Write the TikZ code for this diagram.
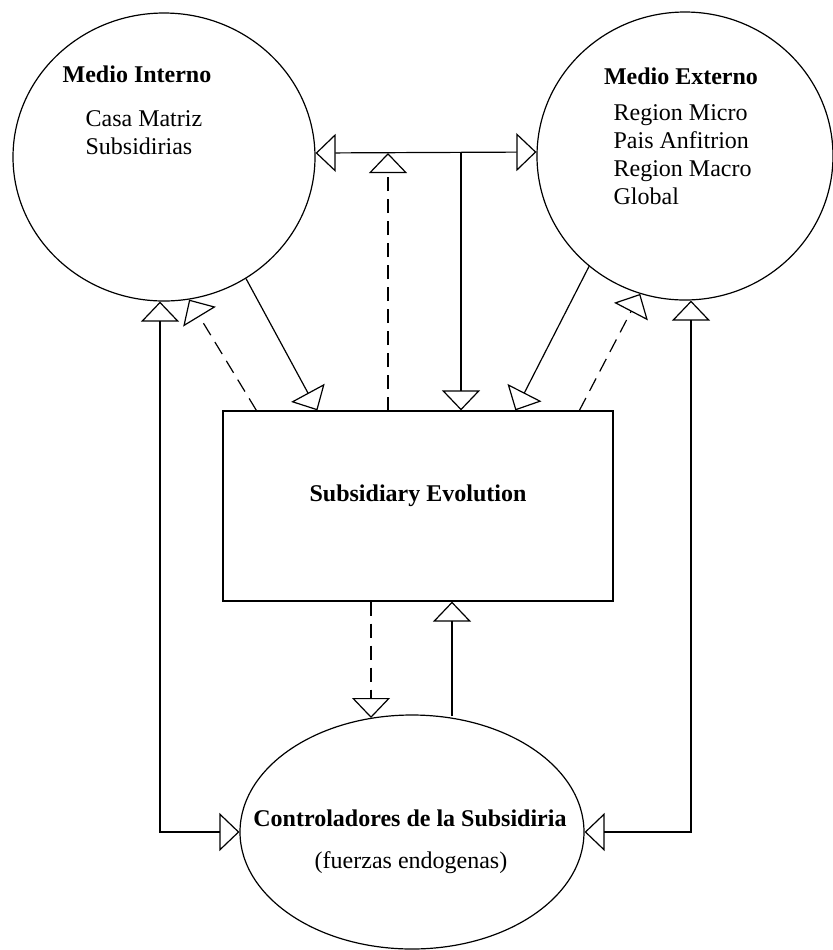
\documentclass[tikz,border=0pt]{standalone}
\usepackage{fontspec}
\setmainfont{Liberation Serif}
\usetikzlibrary{arrows.meta,shapes.geometric}

\begin{document}
\begin{tikzpicture}[x=0.5pt, y=-0.5pt, line width=0.6pt,
	>={Triangle[open,length=10pt,width=19pt]},
	every node/.style={font=\fontsize{12}{14}\selectfont},
	blob/.style={draw, ellipse, inner sep=0pt},
	txt/.style={inner sep=0pt, align=left},
	dashline/.style={dash pattern=on 7pt off 4pt}]
	\useasboundingbox (0,0) rectangle (833,950);

	% medio interno
	\node[blob, minimum width=151pt, minimum height=144pt] (interno) at (164,157) {};
	\node[txt, font=\fontsize{12}{14}\selectfont\bfseries] (interno-title) at (137,74) {Medio Interno};
	\node[txt, anchor=west] (interno-list) at (85,133) {Casa Matriz\\Subsidirias};

	% medio externo
	\node[blob, minimum width=148pt, minimum height=144pt] (externo) at (685,156) {};
	\node[txt, font=\fontsize{12}{14}\selectfont\bfseries] (externo-title) at (681,76) {Medio Externo};
	\node[txt, anchor=west] (externo-list) at (613,155) {Region Micro\\Pais Anfitrion\\Region Macro\\Global};

	% subsidiary evolution
	\node[draw, minimum width=195pt, minimum height=95pt] (evo) at (418,506) {};
	\node[txt, font=\fontsize{12}{14}\selectfont\bfseries] (evo-label) at (418,496) {Subsidiary Evolution};

	% controladores
	\node[blob, minimum width=172pt, minimum height=117pt] (ctrl) at (412,832) {};
	\node[txt, font=\fontsize{12}{14}\selectfont\bfseries] (ctrl-title) at (410,818) {Controladores de la Subsidiria};
	\node[txt] (ctrl-sub) at (411,863) {(fuerzas endogenas)};

	% top link between the two media
	\coordinate (hj) at (461,153);
	\coordinate (dm) at (388,411);
	\draw[<->] ([yshift=2pt]interno.east) -- ([yshift=2pt]externo.west);
	\draw[->] (hj) -- (hj |- evo.north);
	\draw[dashline, ->] (dm) -- (dm |- hj);

	% diagonals, left
	\draw[->] (interno.-56) -- ([xshift=47.5pt]evo.north west);
	\draw[dashline, ->] ([xshift=17pt]evo.north west) -- (interno.-80);

	% diagonals, right
	\draw[->] (externo.-131) -- ([xshift=146.5pt]evo.north west);
	\draw[dashline, ->] ([xshift=178.5pt]evo.north west) -- (externo.-108);

	% outer loops to controladores
	\draw[<->] ([xshift=-2pt]interno.south) |- (ctrl.west);
	\draw[<->] ([xshift=3pt]externo.south) |- (ctrl.east);

	% evo <-> controladores
	\coordinate (dn) at (371,718);
	\coordinate (up) at (452,716);
	\draw[dashline, ->] (dn |- evo.south) -- (dn);
	\draw[->] (up) -- (up |- evo.south);
\end{tikzpicture}
\end{document}
